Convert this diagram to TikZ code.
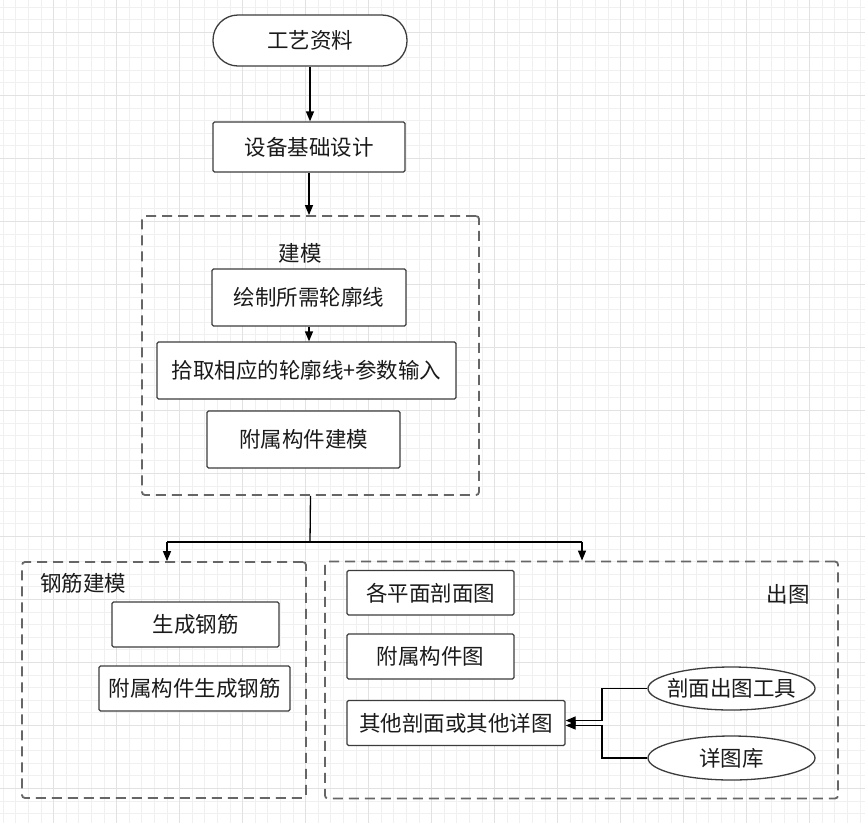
\documentclass[tikz,border=0pt]{standalone}
\usepackage{fontspec}
\setmainfont{Noto Sans CJK SC}
\usetikzlibrary{arrows.meta,shapes.geometric}
\definecolor{gridmaj}{HTML}{E2E2E2}
\definecolor{gridmin}{HTML}{F0F0F0}
\definecolor{boxline}{HTML}{3C3C3C}
\definecolor{dashline}{HTML}{666666}
\definecolor{txt}{HTML}{1A1A1A}
\tikzset{
  every node/.style={font=\fontsize{21.5}{25}\selectfont, text=txt},
  procbox/.style={draw=boxline, line width=1.3pt, rounded corners=1.5pt, fill=white, inner sep=0pt, align=center},
  groupbox/.style={draw=dashline, line width=1.8pt, dash pattern=on 10pt off 6pt, rounded corners=3pt, inner sep=0pt},
  termbox/.style={draw=boxline, line width=1.3pt, fill=white, inner sep=0pt, rounded corners=25pt},
  ovalbox/.style={ellipse, draw=boxline, line width=1.3pt, fill=white, inner sep=0pt},
  flow/.style={draw=black, line width=1.3pt, -{Triangle[length=10pt,width=8pt]}},
  plainline/.style={draw=black, line width=1.3pt}
}
\begin{document}
\begin{tikzpicture}[x=1pt,y=-1pt]
\useasboundingbox (0,0) rectangle (865,823);
\fill[white] (0,0) rectangle (865,823);
% grid
\foreach \i in {0,...,70}{
  \draw[gridmin, line width=1pt] ({-9.3+12.6*\i},0) -- ({-9.3+12.6*\i},823);
}
\foreach \j in {0,...,66}{
  \draw[gridmin, line width=1pt] (0,{-5.4+12.6*\j}) -- (865,{-5.4+12.6*\j});
}
\foreach \i in {0,...,14}{
  \draw[gridmaj, line width=1.2pt] ({-9.3+63*\i},0) -- ({-9.3+63*\i},823);
}
\foreach \j in {0,...,13}{
  \draw[gridmaj, line width=1.2pt] (0,{32.4+63*\j}) -- (865,{32.4+63*\j});
}

% top flow
\node[termbox, minimum width=194pt, minimum height=51pt] (start) at (310,40.5) {工艺资料};
\node[procbox, minimum width=192pt, minimum height=50pt] (design) at (309,147) {设备基础设计};

% modelling group
\node[groupbox, minimum width=337pt, minimum height=279pt] (model) at (310.5,355.5) {};
\node (modellabel) at (300,253) {建模};
\node[procbox, minimum width=194pt, minimum height=57pt] (outline) at (309,297.5) {绘制所需轮廓线};
\node[procbox, minimum width=299pt, minimum height=57pt] (pick) at (306.5,370.5) {拾取相应的轮廓线+参数输入};
\node[procbox, minimum width=193pt, minimum height=57pt] (attach) at (303.5,439.5) {附属构件建模};

% rebar group
\node[groupbox, minimum width=284pt, minimum height=236pt] (rebar) at (164,680) {};
\node (rebarlabel) at (83,583) {钢筋建模};
\node[procbox, minimum width=167pt, minimum height=45pt] (genrebar) at (195.5,624.5) {生成钢筋};
\node[procbox, minimum width=191pt, minimum height=45pt] (attrebar) at (194.5,688.5) {附属构件生成钢筋};

% drawing output group
\node[groupbox, minimum width=513pt, minimum height=237pt] (output) at (581.5,680) {};
\node (outputlabel) at (788,594) {出图};
\node[procbox, minimum width=167pt, minimum height=44.5pt] (plan) at (430.5,592.8) {各平面剖面图};
\node[procbox, minimum width=167pt, minimum height=45pt] (attfig) at (430.5,656.5) {附属构件图};
\node[procbox, minimum width=218pt, minimum height=45pt] (other) at (456,723) {其他剖面或其他详图};
\node[ovalbox, minimum width=167pt, minimum height=43pt] (tool) at (731.5,688.5) {\makebox[0pt]{剖面出图工具}};
\node[ovalbox, minimum width=167pt, minimum height=44pt] (lib) at (731.5,758) {\makebox[0pt]{详图库}};

% connectors
\draw[flow] (start.south) -- (start.south |- design.north);
\draw[flow] (design.south) -- (design.south |- model.north);
\draw[flow] (outline.south) -- (outline.south |- pick.north);

\coordinate (split) at (310,542);
\coordinate (leftdrop) at (167,542);
\coordinate (rightdrop) at (582,542);
\draw[plainline] (model.south) -- (split);
\draw[plainline] (leftdrop) -- (rightdrop);
\draw[flow] (leftdrop) -- (leftdrop |- rebar.north);
\draw[flow] (rightdrop) -- (rightdrop |- output.north);

\coordinate (jtool) at (602,720.5);
\coordinate (jlib) at (602,725.5);
\draw[flow] (tool.west) -| (jtool) -- (jtool -| other.east);
\draw[flow] (lib.west) -| (jlib) -- (jlib -| other.east);
\end{tikzpicture}
\end{document}
